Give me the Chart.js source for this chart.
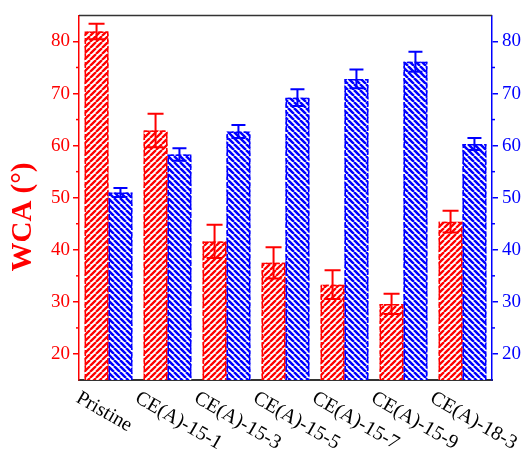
<!DOCTYPE html>
<html>
<head>
<meta charset="utf-8">
<script src="https://cdn.jsdelivr.net/npm/chart.js@4.4.1/dist/chart.umd.min.js"></script>
<style>
html,body{margin:0;padding:0;background:#fff;}
#wrap{width:522px;height:450px;position:relative;}
</style>
</head>
<body>
<div id="wrap"><canvas id="c" width="522" height="450"></canvas></div>
<script>
const categories = ['Pristine','CE(A)-15-1','CE(A)-15-3','CE(A)-15-5','CE(A)-15-7','CE(A)-15-9','CE(A)-18-3'];
const redWCA  = [81.9, 62.9, 41.6, 37.5, 33.3, 29.6, 45.4];
const redErr  = [1.5, 3.2, 3.2, 3.0, 2.75, 1.95, 2.1];
const blueWCA = [51.0, 58.3, 62.7, 69.2, 72.8, 76.1, 60.3];
const blueErr = [0.85, 1.2, 1.25, 1.6, 1.8, 1.9, 1.15];
const yTicks = [20, 30, 40, 50, 60, 70, 80];
const yMinorTicks = [25, 35, 45, 55, 65, 75];
const yMin = 15, yMax = 85;

const RED = '#ff0000';
const BLUE = '#0000ff';
const SERIF = '"Liberation Serif", "Times New Roman", serif';

function makePattern(color, size, lw, dir) {
  const p = document.createElement('canvas');
  p.width = size; p.height = size;
  const g = p.getContext('2d');
  g.fillStyle = '#fff';
  g.fillRect(0, 0, size, size);
  g.strokeStyle = color;
  g.lineWidth = lw;
  g.beginPath();
  for (let k = -1; k <= 1; k++) {
    if (dir > 0) { // "/"
      g.moveTo(k * size, size); g.lineTo(k * size + size, 0);
    } else {       // "\"
      g.moveTo(k * size, 0); g.lineTo(k * size + size, size);
    }
  }
  g.stroke();
  return document.getElementById('c').getContext('2d').createPattern(p, 'repeat');
}

const redPattern = makePattern(RED, 6, 2.3, 1);
const bluePattern = makePattern(BLUE, 6, 2.5, -1);

const decorPlugin = {
  id: 'decor',
  afterDatasetsDraw(chart) {
    const ctx = chart.ctx;
    const area = chart.chartArea;
    // dashed bar outlines
    [[0, RED], [1, BLUE]].forEach(([di, col]) => {
      const meta = chart.getDatasetMeta(di);
      ctx.save();
      ctx.strokeStyle = col;
      ctx.lineWidth = 1.5;
      ctx.setLineDash([6, 2]);
      meta.data.forEach(bar => {
        const l = bar.x - bar.width / 2 + 0.75, r = bar.x + bar.width / 2 - 0.75;
        const b = Math.min(bar.base, area.bottom);
        ctx.beginPath();
        ctx.moveTo(l, b); ctx.lineTo(l, bar.y + 0.75);
        ctx.lineTo(r, bar.y + 0.75); ctx.lineTo(r, b);
        ctx.stroke();
      });
      ctx.restore();
    });
    // error bars
    const sets = [[0, redErr, RED, 16], [1, blueErr, BLUE, 14]];
    sets.forEach(([di, errs, col, cap]) => {
      const meta = chart.getDatasetMeta(di);
      const scale = chart.scales[meta.yAxisID];
      const vals = chart.data.datasets[di].data;
      ctx.save();
      ctx.strokeStyle = col;
      ctx.lineWidth = 2;
      meta.data.forEach((bar, i) => {
        const x = bar.x;
        const yt = scale.getPixelForValue(vals[i] + errs[i]);
        const yb = scale.getPixelForValue(vals[i] - errs[i]);
        ctx.beginPath();
        ctx.moveTo(x, yt); ctx.lineTo(x, yb);
        ctx.moveTo(x - cap / 2, yt); ctx.lineTo(x + cap / 2, yt);
        ctx.moveTo(x - cap / 2, yb); ctx.lineTo(x + cap / 2, yb);
        ctx.stroke();
      });
      ctx.restore();
    });
  },
  afterDraw(chart) {
    const ctx = chart.ctx;
    const area = chart.chartArea;
    const yl = chart.scales.y, xs = chart.scales.x;
    ctx.save();
    // top frame line
    ctx.strokeStyle = '#333';
    ctx.lineWidth = 1.5;
    ctx.beginPath();
    ctx.moveTo(area.left, area.top); ctx.lineTo(area.right, area.top);
    ctx.stroke();
    // minor ticks
    ctx.lineWidth = 1.5;
    yMinorTicks.forEach(v => {
      const py = yl.getPixelForValue(v);
      ctx.strokeStyle = RED;
      ctx.beginPath(); ctx.moveTo(area.left - 3, py); ctx.lineTo(area.left, py); ctx.stroke();
      ctx.strokeStyle = BLUE;
      ctx.beginPath(); ctx.moveTo(area.right, py); ctx.lineTo(area.right + 3, py); ctx.stroke();
    });
    // x labels, rotated
    ctx.fillStyle = '#000';
    ctx.font = '20px ' + SERIF;
    ctx.textAlign = 'left';
    ctx.textBaseline = 'top';
    categories.forEach((lab, i) => {
      const x = xs.getPixelForTick(i);
      ctx.save();
      ctx.translate(x - 26, area.bottom + 8);
      ctx.rotate(30 * Math.PI / 180);
      ctx.fillText(lab, 0, 0);
      ctx.restore();
    });
    // y title
    ctx.fillStyle = RED;
    ctx.font = 'bold 29px ' + SERIF;
    ctx.textAlign = 'center';
    ctx.textBaseline = 'middle';
    ctx.save();
    ctx.translate(24, 217);
    ctx.rotate(-Math.PI / 2);
    ctx.fillText('WCA (\u00B0)', 0, 0);
    ctx.restore();
    ctx.restore();
  }
};

new Chart(document.getElementById('c'), {
  type: 'bar',
  data: {
    labels: categories,
    datasets: [
      { label: 'WCA', data: redWCA, yAxisID: 'y', backgroundColor: redPattern,
        borderWidth: 0, categoryPercentage: 0.81, barPercentage: 1.0 },
      { label: 'WCA2', data: blueWCA, yAxisID: 'y1', backgroundColor: bluePattern,
        borderWidth: 0, categoryPercentage: 0.81, barPercentage: 1.0 }
    ]
  },
  options: {
    responsive: false,
    animation: false,
    layout: { padding: { top: 15, left: 0, right: 0, bottom: 0 } },
    plugins: { legend: { display: false }, tooltip: { enabled: false } },
    scales: {
      x: {
        ticks: { display: false },
        grid: { display: false, drawTicks: false },
        border: { display: true, color: '#333', width: 2 },
        afterFit(s) { s.height = 70; }
      },
      y: {
        position: 'left',
        min: yMin, max: yMax,
        afterBuildTicks(s) { s.ticks = yTicks.map(v => ({ value: v })); },
        ticks: { color: RED, font: { family: SERIF, size: 19 }, padding: 3 },
        grid: { drawOnChartArea: false, drawTicks: true, tickLength: 6, color: RED, lineWidth: 1.5 },
        border: { color: RED, width: 1.5 },
        afterFit(s) { s.width = 79; }
      },
      y1: {
        position: 'right',
        min: yMin, max: yMax,
        afterBuildTicks(s) { s.ticks = yTicks.map(v => ({ value: v })); },
        ticks: { color: BLUE, font: { family: SERIF, size: 19 }, padding: 4 },
        grid: { drawOnChartArea: false, drawTicks: true, tickLength: 6, color: BLUE, lineWidth: 1.5 },
        border: { color: BLUE, width: 1.5 },
        afterFit(s) { s.width = 30; }
      }
    }
  },
  plugins: [decorPlugin]
});
</script>
</body>
</html>
